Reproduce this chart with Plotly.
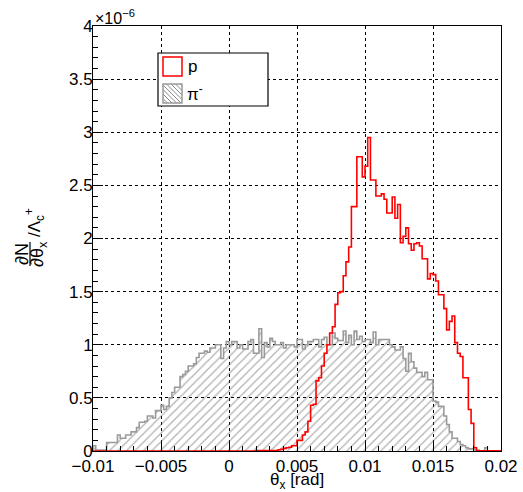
import numpy as np
import plotly.graph_objects as go

# ---------------- data ----------------
x_min, x_max, n_bins = -0.01, 0.02, 150

p_vals = [0.0]*60 + [0.005]*8 + [
    0.012, 0.015, 0.025, 0.03, 0.035, 0.05, 0.05, 0.10, 0.10, 0.15,   # 68-77
    0.18, 0.28, 0.43, 0.44, 0.66, 0.69, 0.80, 0.92, 1.00, 1.11,       # 78-87
    1.17, 1.38, 1.49, 1.50, 1.65, 1.78, 1.92, 2.30, 2.30, 2.77,       # 88-97
    2.77, 2.58, 2.68, 2.95, 2.55, 2.55, 2.40, 2.40, 2.42, 2.37,       # 98-107
    2.24, 2.24, 2.39, 2.19, 2.32, 1.96, 2.02, 2.10, 1.95, 1.89,       # 108-117
    1.95, 1.96, 1.93, 1.81, 1.81, 1.62, 1.67, 1.66, 1.60, 1.47,       # 118-127
    1.47, 1.34, 1.14, 1.22, 1.27, 1.02, 0.92, 0.89, 0.69, 0.69,       # 128-137
    0.39, 0.26, 0.03] + [0.003]*9                                     # 138-149

pi_vals = [
    0.05, 0.01, 0.01, 0.01, 0.01, 0.08, 0.08, 0.08, 0.08, 0.15,
    0.12, 0.12, 0.15, 0.15, 0.18, 0.18, 0.22, 0.27, 0.27, 0.28,
    0.33, 0.33, 0.31, 0.38, 0.38, 0.43, 0.39, 0.42, 0.50, 0.55,
    0.60, 0.60, 0.70, 0.72, 0.75, 0.80, 0.80, 0.82, 0.88, 0.92,
    0.92, 0.94, 0.93, 0.97, 0.97, 1.00, 1.00, 0.87, 0.97, 1.03,
    1.00, 1.03, 1.03, 0.97, 1.00, 0.96, 0.96, 1.03, 1.05, 0.92,
    0.92, 1.15, 0.88, 1.02, 0.98, 1.06, 1.03, 1.00, 1.00, 1.02,
    0.97, 1.00, 1.00, 1.00, 0.98, 1.05, 1.05, 0.96, 1.00, 1.03,
    1.03, 1.05, 1.05, 0.98, 1.05, 1.07, 1.00, 1.00, 1.11, 1.06,
    1.04, 1.04, 1.13, 1.02, 1.09, 1.00, 1.13, 1.05, 1.08, 1.03,
    1.05, 1.05, 1.02, 1.12, 1.00, 1.05, 1.05, 1.05, 1.05, 1.00,
    0.98, 0.95, 0.95, 0.98, 0.87, 0.75, 0.92, 0.84, 0.78, 0.74,
    0.74, 0.70, 0.74, 0.67, 0.67, 0.47, 0.46, 0.42, 0.42, 0.33,
    0.25, 0.18, 0.12, 0.12, 0.09, 0.06, 0.05, 0.03, 0.02, 0.02,
    0.01, 0.01, 0.0, 0.0, 0.03, 0.0, 0.0, 0.0, 0.0, 0.0]

x_tick_vals = [-0.01, -0.005, 0, 0.005, 0.01, 0.015, 0.02]
x_tick_text = ["\u22120.01", "\u22120.005", "0", "0.005", "0.01", "0.015", "0.02"]
y_tick_vals = [0, 0.5, 1, 1.5, 2, 2.5, 3, 3.5, 4]
y_tick_text = ["0", "0.5", "1", "1.5", "2", "2.5", "3", "3.5", "4"]

# ---------------- figure ----------------
FONT = "Liberation Sans, Arial, Helvetica, sans-serif"
W, H = 523, 492
L, R, T, B = 93, 22, 26, 41
pw, ph = W - L - R, H - T - B

def px(xp):
    return (xp - L) / pw

def py(yp):
    return (H - B - yp) / ph

edges = np.linspace(x_min, x_max, n_bins + 1)

def step_xy(vals):
    xs = [edges[0]] + list(edges) + [edges[-1]]
    ys = [0.0] + list(vals) + [vals[-1], 0.0]
    return xs, ys

fig = go.Figure()

xs, ys = step_xy(pi_vals)
fig.add_trace(go.Scatter(
    x=xs, y=ys, mode="lines", line=dict(shape="hv", color="#9a9a9a", width=1.6),
    fill="tozeroy", fillcolor="rgba(0,0,0,0)",
    fillpattern=dict(shape="/", fgcolor="#606060", bgcolor="rgba(0,0,0,0)", size=6, solidity=0.2),
    name="\u03c0\u207b", showlegend=False, hoverinfo="skip"))

xs, ys = step_xy(p_vals)
fig.add_trace(go.Scatter(
    x=xs, y=ys, mode="lines", line=dict(shape="hv", color="#ff0000", width=1.6),
    name="p", showlegend=False, hoverinfo="skip"))

axis_common = dict(showline=True, linecolor="black", linewidth=1, mirror=True,
                   ticks="inside", tickcolor="black", showgrid=True, gridcolor="black",
                   griddash="dot", gridwidth=1, zeroline=False, automargin=False,
                   tickfont=dict(family=FONT, size=17, color="black"))

fig.update_xaxes(range=[x_min, x_max], tickvals=x_tick_vals, ticktext=x_tick_text,
                 ticklen=9, minor=dict(dtick=0.001, ticks="inside", ticklen=5, tickcolor="black", showgrid=False),
                 **axis_common)
fig.update_yaxes(range=[0, 4], tickvals=y_tick_vals, ticktext=y_tick_text,
                 ticklen=10, minor=dict(dtick=0.1, ticks="inside", ticklen=5, tickcolor="black", showgrid=False),
                 ticklabelstandoff=-4, **axis_common)

shapes = []
annotations = []

# legend box
shapes.append(dict(type="rect", xref="paper", yref="paper", x0=px(158), x1=px(268), y0=py(106), y1=py(53),
                   line=dict(color="black", width=1.2), fillcolor="white", layer="above"))
# red swatch
shapes.append(dict(type="rect", xref="paper", yref="paper", x0=px(163), x1=px(182), y0=py(76), y1=py(57),
                   line=dict(color="#ff0000", width=1.5), fillcolor="white", layer="above"))
# grey hatched swatch
sx0, sx1, sy0, sy1 = 163, 182, 84, 103
side = sx1 - sx0
path = ""
c = 4.5
while c < 2 * side:
    if c <= side:
        ax, ay = sx0 + c, sy1
        bx, by = sx0, sy1 - c
    else:
        ax, ay = sx1, sy1 - (c - side)
        bx, by = sx0 + (c - side), sy0
    path += f"M{px(ax)},{py(ay)}L{px(bx)},{py(by)}"
    c += 4.5
shapes.append(dict(type="path", xref="paper", yref="paper", path=path,
                   line=dict(color="#6a6a6a", width=0.8), layer="above"))
shapes.append(dict(type="rect", xref="paper", yref="paper", x0=px(sx0), x1=px(sx1), y0=py(sy1), y1=py(sy0),
                   line=dict(color="#9a9a9a", width=1.5), fillcolor="rgba(0,0,0,0)", layer="above"))

annotations.append(dict(xref="paper", yref="paper", x=px(186), y=py(67), text="p", showarrow=False,
                        xanchor="left", yanchor="middle", font=dict(family=FONT, size=17, color="black")))
annotations.append(dict(xref="paper", yref="paper", x=px(185), y=py(93), text="\u03c0<sup>-</sup>", showarrow=False,
                        xanchor="left", yanchor="middle", font=dict(family=FONT, size=17, color="black")))

# exponent label
annotations.append(dict(xref="paper", yref="paper", x=px(93), y=py(17), text="\u00d710<sup>\u22126</sup>",
                        showarrow=False, xanchor="left", yanchor="middle",
                        font=dict(family=FONT, size=16, color="black")))

# x title
annotations.append(dict(xref="paper", yref="paper", x=0.5, y=py(481), text="\u03b8<sub>x</sub> [rad]",
                        showarrow=False, xanchor="center", yanchor="middle",
                        font=dict(family=FONT, size=17, color="black")))

# y title (fraction, rotated)
annotations.append(dict(xref="paper", yref="paper", x=px(22), y=py(254), text="\u2202N",
                        showarrow=False, xanchor="center", yanchor="middle", textangle=-90,
                        font=dict(family=FONT, size=18, color="black")))
annotations.append(dict(xref="paper", yref="paper", x=px(38), y=py(254), text="\u2202\u03b8<sub>x</sub>",
                        showarrow=False, xanchor="center", yanchor="middle", textangle=-90,
                        font=dict(family=FONT, size=18, color="black")))
shapes.append(dict(type="line", xref="paper", yref="paper", x0=px(30), x1=px(30), y0=py(242), y1=py(266),
                   line=dict(color="black", width=1.2)))
annotations.append(dict(xref="paper", yref="paper", x=px(34), y=py(222), text="/\u039b<sub>c</sub><sup>+</sup>",
                        showarrow=False, xanchor="center", yanchor="middle", textangle=-90,
                        font=dict(family=FONT, size=17, color="black")))

fig.update_layout(width=W, height=H, margin=dict(l=L, r=R, t=T, b=B, pad=0, autoexpand=False),
                  paper_bgcolor="white", plot_bgcolor="white", showlegend=False,
                  shapes=shapes, annotations=annotations,
                  font=dict(family=FONT, size=17, color="black"))

fig.write_html("out.html", config={"displayModeBar": False},
               post_script="document.body.style.margin='0';document.body.style.padding='0';"
                           "document.body.style.overflow='hidden';"
                           "document.documentElement.style.overflow='hidden';")
